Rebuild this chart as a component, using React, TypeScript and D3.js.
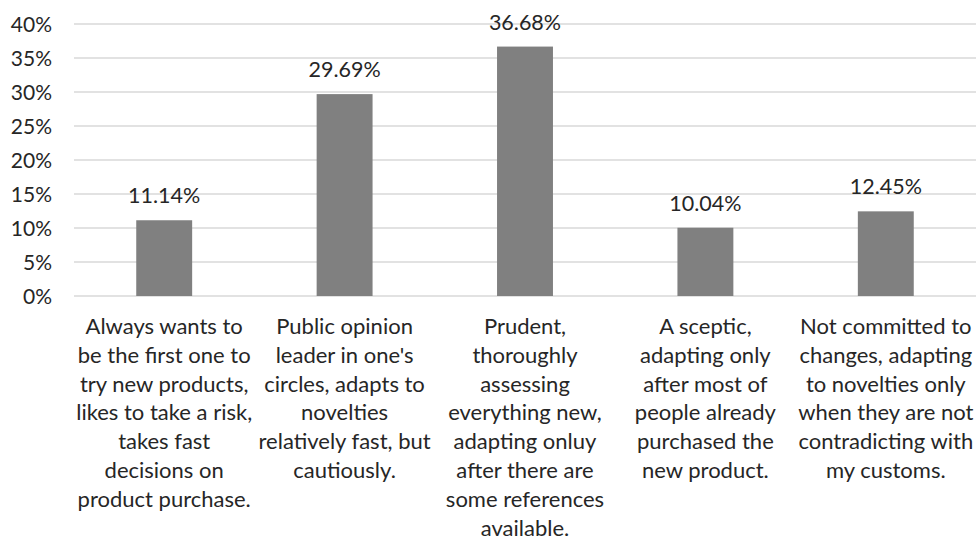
import * as d3 from "d3";

const categories = [
    ["Always wants to", "be the first one to", "try new products,", "likes to take a risk,", "takes fast", "decisions on", "product purchase."],
    ["Public opinion", "leader in one's", "circles, adapts to", "novelties", "relatively fast, but", "cautiously."],
    ["Prudent,", "thoroughly", "assessing", "everything new,", "adapting onluy", "after there are", "some references", "available."],
    ["A sceptic,", "adapting only", "after most of", "people already", "purchased the", "new product."],
    ["Not committed to", "changes, adapting", "to novelties only", "when they are not", "contradicting with", "my customs."],
];
const values = [11.14, 29.69, 36.68, 10.04, 12.45];
const yTicks = [0, 5, 10, 15, 20, 25, 30, 35, 40];

const width = 976;
const height = 542;
const marginLeft = 74;
const marginRight = 0;
const marginTop = 24;
const plotBottom = 296;
const font = "Lato, 'Open Sans', sans-serif";
const textColor = "#262626";

export default function App() {
    const x = d3.scaleBand<number>()
        .domain(values.map((_, i) => i))
        .range([marginLeft, width - marginRight])
        .paddingInner(0.69)
        .paddingOuter(0.345);
    const y = d3.scaleLinear([0, 40], [plotBottom, marginTop]);
    const cx = (i: number) => (x(i) ?? 0) + x.bandwidth() / 2;

    return (
        <svg
            width={width}
            height={height}
            style={{ position: "absolute", left: 0, top: 0, background: "#fff" }}
            fontFamily={font}
        >
            {/* gridlines */}
            {yTicks.map((t) => (
                <line
                    key={t}
                    x1={marginLeft}
                    x2={width - marginRight}
                    y1={y(t)}
                    y2={y(t)}
                    stroke="#d9d9d9"
                    strokeWidth={1.3}
                />
            ))}

            {/* y tick labels */}
            {yTicks.map((t) => (
                <text
                    key={t}
                    x={52}
                    y={y(t) + 7.5}
                    textAnchor="end"
                    fontSize={21}
                    fill={textColor}
                >
                    {t}%
                </text>
            ))}

            {/* bars */}
            {values.map((v, i) => (
                <rect
                    key={i}
                    x={x(i)}
                    y={y(v)}
                    width={x.bandwidth()}
                    height={y(0) - y(v)}
                    fill="#808080"
                />
            ))}

            {/* value labels */}
            {values.map((v, i) => (
                <text
                    key={i}
                    x={cx(i)}
                    y={y(v) - 17}
                    textAnchor="middle"
                    fontSize={21.5}
                    fill={textColor}
                >
                    {v.toFixed(2)}%
                </text>
            ))}

            {/* category labels */}
            {categories.map((lines, i) => (
                <text
                    key={i}
                    x={cx(i)}
                    y={334}
                    textAnchor="middle"
                    fontSize={22}
                    fill={textColor}
                >
                    {lines.map((l, j) => (
                        <tspan key={j} x={cx(i)} dy={j === 0 ? 0 : 28.8}>
                            {l}
                        </tspan>
                    ))}
                </text>
            ))}
        </svg>
    );
}
